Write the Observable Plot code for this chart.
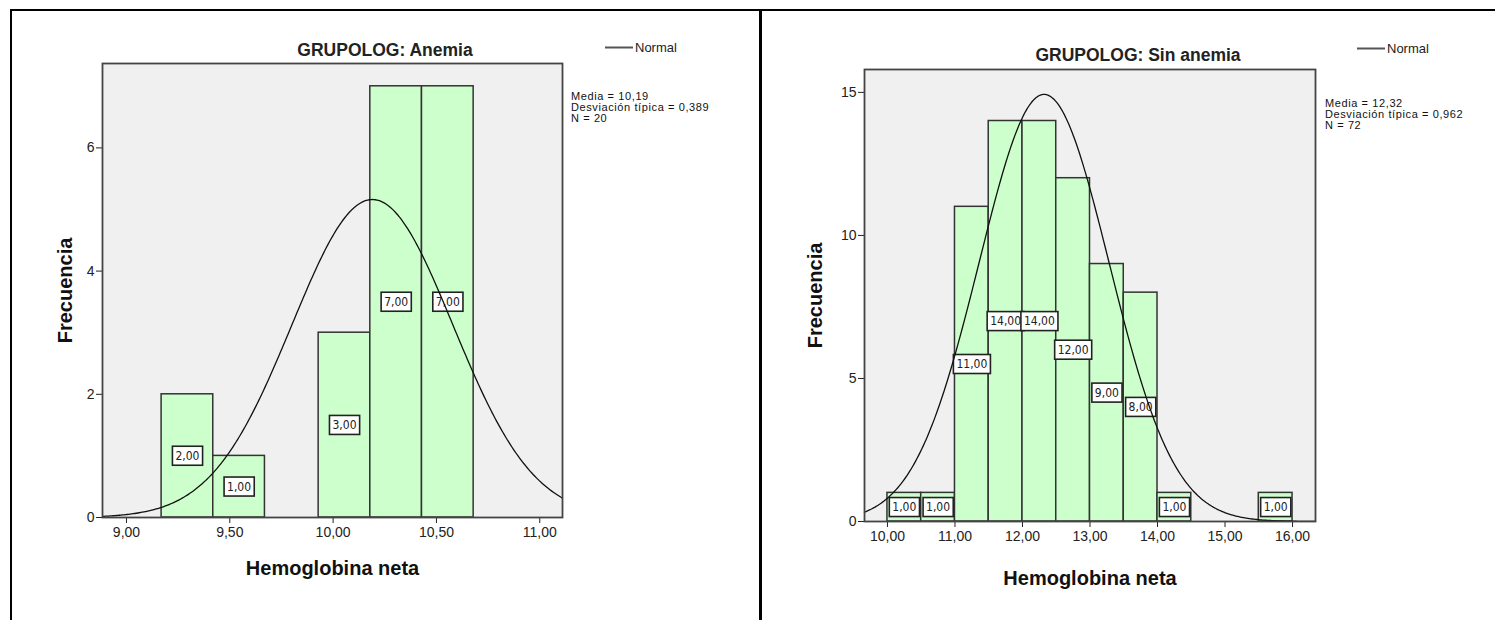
<!DOCTYPE html>
<html><head><meta charset="utf-8">
<script src="https://cdn.jsdelivr.net/npm/d3@7"></script>
<script src="https://cdn.jsdelivr.net/npm/@observablehq/plot@0.6"></script>
<style>
body{margin:0;background:#fff}
#page{position:relative;width:1495px;height:620px;overflow:hidden;background:#fff;font-family:"Liberation Sans",Arial,sans-serif}
.panel{position:absolute;top:0}
.panel svg{display:block}
.rule{position:absolute;background:#000}
.title{position:absolute;font-weight:bold;font-size:17.5px;color:#222;transform:translate(-50%,-50%);white-space:nowrap}
.legend{position:absolute;font-size:13px;color:#222;white-space:nowrap;transform:translateY(-50%);line-height:15px}
.legend .sw{display:inline-block;width:28px;height:0;border-top:2px solid #555;vertical-align:middle;margin-right:2px;position:relative;top:-1px}
.stats{position:absolute;font-size:11px;letter-spacing:0.6px;line-height:11px;color:#111;white-space:nowrap}
[aria-label="x-axis label"],[aria-label="y-axis label"]{font-size:20px;font-weight:bold;fill:#111}
</style>
</head><body>
<div id="page"></div>
<script>
// ---- data ----
const anemiaTitle = "GRUPOLOG: Anemia";
const anemiaEdges = [9.17, 9.42, 9.67, 9.93, 10.18, 10.43, 10.68];
const anemiaCounts = [2, 1, 0, 3, 7, 7];
const anemiaMean = 10.19, anemiaSd = 0.389, anemiaN = 20;
const anemiaXTicks = [9.0, 9.5, 10.0, 10.5, 11.0];
const anemiaYTicks = [0, 2, 4, 6];
const anemiaStats = ["Media = 10,19", "Desviación típica = 0,389", "N = 20"];

const sinTitle = "GRUPOLOG: Sin anemia";
const sinEdges = [10, 10.5, 11, 11.5, 12, 12.5, 13, 13.5, 14, 14.5, 15, 15.5, 16];
const sinCounts = [1, 1, 11, 14, 14, 12, 9, 8, 1, 0, 0, 1];
const sinMean = 12.32, sinSd = 0.962, sinN = 72;
const sinXTicks = [10, 11, 12, 13, 14, 15, 16];
const sinYTicks = [0, 5, 10, 15];
const sinStats = ["Media = 12,32", "Desviación típica = 0,962", "N = 72"];

const xLabel = "Hemoglobina neta";
const yLabel = "Frecuencia";
const legendLabel = "Normal";

const locale = d3.formatLocale({decimal: ",", thousands: ".", grouping: [3], currency: ["", "€"]});
const fmt2 = locale.format(".2f");

function panel(o) {
  const bins = o.counts.map((c, i) => ({x1: o.edges[i], x2: o.edges[i + 1], count: c})).filter(d => d.count > 0);
  const binWidth = (o.edges[o.edges.length - 1] - o.edges[0]) / o.counts.length;
  const k = o.n * binWidth / (o.sd * Math.sqrt(2 * Math.PI));
  const normal = d3.range(0, 301).map(i => {
    const x = o.xDomain[0] + (o.xDomain[1] - o.xDomain[0]) * i / 300;
    return {x, y: k * Math.exp(-0.5 * ((x - o.mean) / o.sd) ** 2)};
  });
  return Plot.plot({
    width: o.width, height: 620,
    marginLeft: o.m[0], marginTop: o.m[1], marginRight: o.m[2], marginBottom: o.m[3],
    style: {background: "transparent", fontFamily: "'Liberation Sans', Arial, sans-serif", fontSize: "14px", color: "#222", overflow: "visible"},
    x: {domain: o.xDomain, ticks: o.xTicks, tickFormat: fmt2, tickSize: 6, tickPadding: 4,
        label: xLabel, labelAnchor: "center", labelOffset: o.lx, labelArrow: "none"},
    y: {domain: o.yDomain, ticks: o.yTicks, tickSize: 6, tickPadding: 2,
        label: yLabel, labelAnchor: "center", labelOffset: o.ly, labelArrow: "none"},
    marks: [
      Plot.frame({fill: "#f0f0f0"}),
      Plot.rect(bins, {x1: "x1", x2: "x2", y1: 0, y2: "count", fill: "#ccffcc", stroke: "#333", strokeWidth: 1.5}),
      Plot.text(bins, {x: d => (d.x1 + d.x2) / 2, y: d => d.count / 2, text: d => fmt2(d.count),
        fontSize: 12, fontFamily: "'Liberation Sans Narrow','Arial Narrow','DejaVu Sans Condensed',sans-serif", fill: "#222"}),
      Plot.line(normal, {x: "x", y: "y", stroke: "#111", strokeWidth: 1.3}),
      Plot.frame({stroke: "#444", strokeWidth: 1.8})
    ]
  });
}

function boxLabels(svg) {
  svg.querySelectorAll('g[aria-label="text"] text').forEach(t => {
    const b = t.getBBox();
    const r = document.createElementNS("http://www.w3.org/2000/svg", "rect");
    r.setAttribute("x", b.x - 3);
    r.setAttribute("y", b.y + b.height / 2 - 9.5);
    r.setAttribute("width", b.width + 6);
    r.setAttribute("height", 19);
    r.setAttribute("fill", "#fff");
    r.setAttribute("stroke", "#222");
    r.setAttribute("stroke-width", "1.6");
    if (t.getAttribute("transform")) r.setAttribute("transform", t.getAttribute("transform"));
    t.parentNode.insertBefore(r, t);
  });
}

const page = document.getElementById("page");

function addPanel(left, opts) {
  const div = document.createElement("div");
  div.className = "panel";
  div.style.left = left + "px";
  const svg = panel(opts);
  div.appendChild(svg);
  page.appendChild(div);
  boxLabels(svg);
}

addPanel(0, {edges: anemiaEdges, counts: anemiaCounts, mean: anemiaMean, sd: anemiaSd, n: anemiaN,
  xDomain: [8.884, 11.11], yDomain: [0, 7.37], xTicks: anemiaXTicks, yTicks: anemiaYTicks,
  width: 760, m: [102, 63, 198, 103], lx: 57, ly: 45});
addPanel(760, {edges: sinEdges, counts: sinCounts, mean: sinMean, sd: sinSd, n: sinN,
  xDomain: [9.66, 16.34], yDomain: [0, 15.8], xTicks: sinXTicks, yTicks: sinYTicks,
  width: 735, m: [104, 69, 180, 99], lx: 63, ly: 57});

function addEl(cls, style, html) {
  const d = document.createElement("div");
  d.className = cls;
  Object.assign(d.style, style);
  d.innerHTML = html;
  page.appendChild(d);
}
addEl("title", {left: "385px", top: "50px"}, anemiaTitle);
addEl("title", {left: "1138px", top: "55px"}, sinTitle);
addEl("legend", {left: "605px", top: "47px"}, '<span class="sw"></span>' + legendLabel);
addEl("legend", {left: "1357px", top: "48px"}, '<span class="sw"></span>' + legendLabel);
addEl("stats", {left: "571px", top: "91px"}, anemiaStats.join("<br>"));
addEl("stats", {left: "1325px", top: "98px"}, sinStats.join("<br>"));

// table borders
addEl("rule", {left: "10px", top: "9px", width: "1485px", height: "2px"}, "");
addEl("rule", {left: "10px", top: "9px", width: "2px", height: "611px"}, "");
addEl("rule", {left: "759px", top: "9px", width: "3px", height: "611px"}, "");
</script>
</body></html>
